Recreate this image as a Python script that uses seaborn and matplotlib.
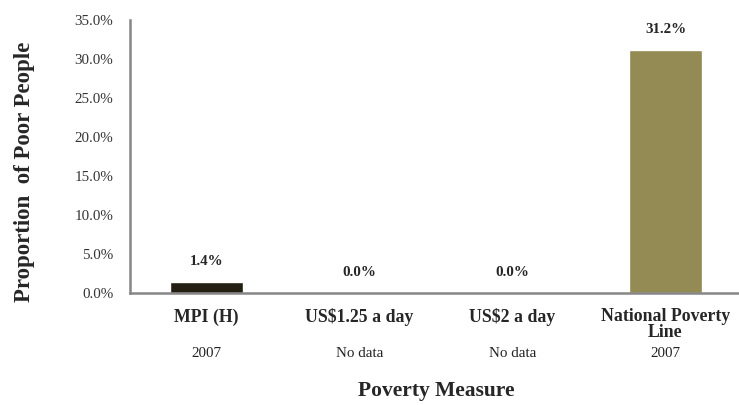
import pandas as pd
import matplotlib.pyplot as plt
import seaborn as sns
from matplotlib.ticker import FuncFormatter

categories = ["MPI (H)", "US$1.25 a day", "US$2 a day", "National Poverty\nLine"]
values = [1.4, 0.0, 0.0, 31.2]
years = ["2007", "No data", "No data", "2007"]
colors = ["#231f14", "#4f4a36", "#6e6748", "#948a54"]

df = pd.DataFrame({"measure": categories, "value": values})

sns.set_style("white")
plt.rcParams["font.family"] = ["Liberation Serif", "DejaVu Serif"]

fig = plt.figure(figsize=(7.39, 4.05), dpi=100)
ax = fig.add_axes([0.176, 0.2765, 0.828, 0.6735])

sns.barplot(data=df, x="measure", y="value", hue="measure", palette=colors,
            width=0.48, legend=False, ax=ax, saturation=1)

ax.set_ylim(0, 35)
ax.set_yticks(range(0, 36, 5))
ax.yaxis.set_major_formatter(FuncFormatter(lambda v, p: f"{v:.1f}%"))
ax.tick_params(axis="y", labelsize=10.8, colors="#333333", length=0, pad=12)
ax.tick_params(axis="x", labelsize=12.8, length=0, pad=11)
for lab in ax.get_xticklabels():
    lab.set_fontweight("bold")
    lab.set_linespacing(0.92)

for i, v in enumerate(values):
    ax.annotate(f"{v:.1f}%", (i, v), xytext=(0, 15), textcoords="offset points",
                ha="center", va="center", fontsize=10.8, fontweight="bold")
    ax.text(i, -0.22, years[i], transform=ax.get_xaxis_transform(),
            ha="center", va="center", fontsize=10.8, color="#222222")

for side in ["top", "right"]:
    ax.spines[side].set_visible(False)
for side in ["left", "bottom"]:
    ax.spines[side].set_color("#868686")
    ax.spines[side].set_linewidth(1.8)

ax.set_xlabel("Poverty Measure", fontsize=15.5, fontweight="bold")
ax.set_ylabel("Proportion  of Poor People", fontsize=16.5, fontweight="bold")
ax.xaxis.set_label_coords(0.5, -0.322)
ax.yaxis.set_label_coords(-0.156, 0.443)

fig.savefig("out.png", dpi=100)
